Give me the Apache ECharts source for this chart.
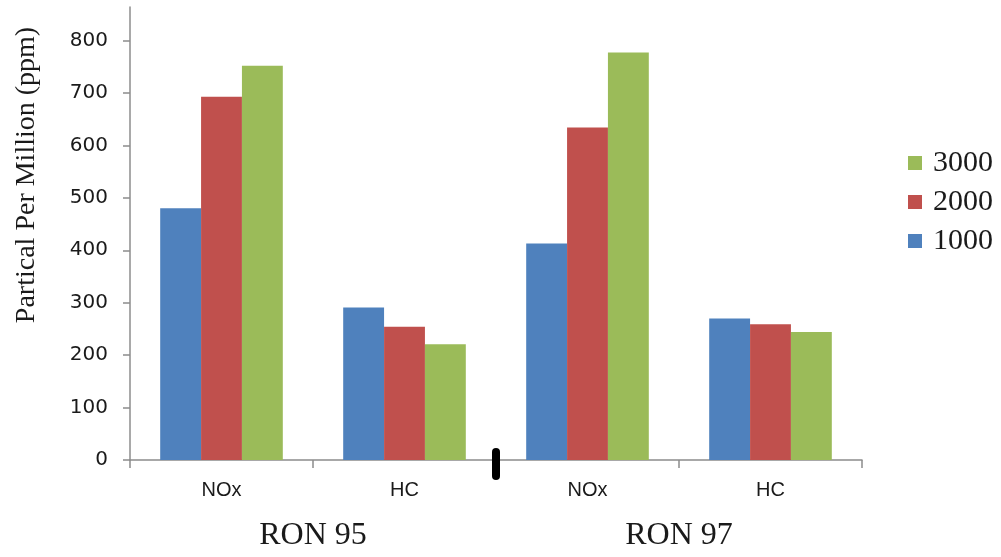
<!DOCTYPE html>
<html>
<head>
<meta charset="utf-8">
<script src="https://cdn.jsdelivr.net/npm/echarts@6/dist/echarts.min.js"></script>
<style>
html,body{margin:0;padding:0;background:#fff;}
#chart{width:1001px;height:557px;}
</style>
</head>
<body>
<div id="chart"></div>
<script>
var categories = ['NOx', 'HC', 'NOx', 'HC'];
var groups = ['RON 95', 'RON 97'];
var seriesNames = ['1000', '2000', '3000'];
var legendOrder = ['3000', '2000', '1000'];
var values1000 = [480, 291, 413, 270];
var values2000 = [693, 254, 634, 259];
var values3000 = [752, 221, 777, 244];
var yTicks = [0, 100, 200, 300, 400, 500, 600, 700, 800];
var colors = ['#4F81BD', '#C0504D', '#9BBB59'];
var seriesValues = [values1000, values2000, values3000];

var chart = echarts.init(document.getElementById('chart'), null, {renderer: 'canvas'});

var series = seriesNames.map(function (name, i) {
  return {
    name: name,
    type: 'bar',
    data: seriesValues[i],
    barGap: '0%',
    barCategoryGap: '33%',
    itemStyle: {color: colors[i]},
    xAxisIndex: 0,
    yAxisIndex: 0
  };
});

var option = {
  animation: false,
  backgroundColor: '#ffffff',
  color: colors,
  grid: {left: 130, right: 139, top: 7, bottom: 97, containLabel: false},
  legend: {
    data: legendOrder,
    orient: 'vertical',
    left: 903,
    top: 143,
    icon: 'rect',
    itemWidth: 14,
    itemHeight: 14,
    itemGap: 9,
    textStyle: {fontFamily: 'Liberation Serif', fontSize: 30, color: '#1a1a1a', padding: [0, 0, 0, 6]}
  },
  xAxis: [
    {
      type: 'category',
      data: categories,
      position: 'bottom',
      axisLine: {show: true, lineStyle: {color: '#8c8c8c', width: 1.5}},
      axisTick: {show: true, length: 8, lineStyle: {color: '#8c8c8c', width: 1.5}},
      axisLabel: {fontFamily: 'Liberation Sans', fontSize: 20, color: '#1a1a1a', margin: 20},
      splitLine: {show: false}
    },
    {
      type: 'category',
      data: groups,
      position: 'bottom',
      gridIndex: 0,
      axisLine: {show: false},
      axisTick: {show: false},
      axisLabel: {fontFamily: 'Liberation Serif', fontSize: 32, color: '#1a1a1a', margin: 60},
      splitLine: {show: false}
    }
  ],
  yAxis: {
    type: 'value',
    min: 0,
    max: 864,
    interval: 100,
    axisLine: {show: true, lineStyle: {color: '#8c8c8c', width: 1.5}},
    axisTick: {show: true, length: 7, customValues: yTicks, lineStyle: {color: '#8c8c8c', width: 1.5}},
    axisLabel: {fontFamily: 'DejaVu Sans', fontSize: 20, color: '#1a1a1a', margin: 22, customValues: yTicks},
    splitLine: {show: false}
  },
  series: series
};

chart.setOption(option);

// separator mark between the two RON groups on the axis
var p1 = chart.convertToPixel({xAxisIndex: 0}, 1);
var p2 = chart.convertToPixel({xAxisIndex: 0}, 2);
var y0 = chart.convertToPixel({yAxisIndex: 0}, 0);
var sx = (p1 + p2) / 2;
chart.setOption({graphic: [
  {
    type: 'text',
    x: 27,
    y: 175,
    rotation: Math.PI / 2,
    z: 100,
    style: {
      text: 'Partical Per Million (ppm)',
      fontFamily: 'Liberation Serif',
      fontSize: 28,
      fill: '#1a1a1a',
      align: 'center',
      verticalAlign: 'middle'
    }
  },
  {
    type: 'line',
    z: 100,
    shape: {x1: sx, y1: y0 - 8, x2: sx, y2: y0 + 16},
    style: {stroke: '#000', lineWidth: 8, lineCap: 'round'}
  }
]});
</script>
</body>
</html>
